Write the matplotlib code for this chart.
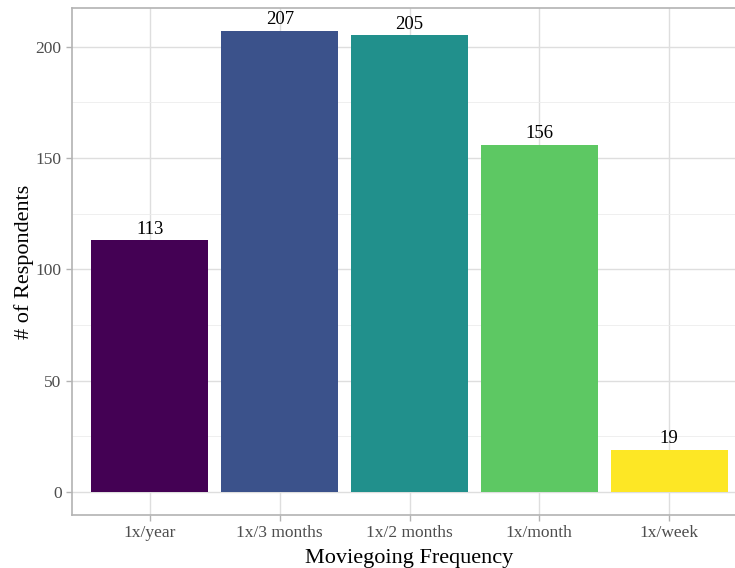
import matplotlib
matplotlib.use('Agg')
import matplotlib.pyplot as plt
from matplotlib.ticker import MultipleLocator

categories = ['1x/year', '1x/3 months', '1x/2 months', '1x/month', '1x/week']
counts = [113, 207, 205, 156, 19]
colors = ['#440154', '#3B528B', '#21908C', '#5DC863', '#FDE725']

plt.rcParams['font.family'] = ['Liberation Serif', 'DejaVu Serif']

fig = plt.figure(figsize=(7.35, 5.68), dpi=100)
W, H = 735, 568
ax = fig.add_axes([72 / W, 53 / H, (747 - 72) / W, (515 - 8) / H])

x = list(range(1, len(categories) + 1))
ax.bar(x, counts, width=0.9, color=colors, zorder=3)
for xi, c in zip(x, counts):
    ax.text(xi, c + 1.2, str(c), ha='center', va='bottom', fontsize=13.5,
            color='black', zorder=4)

ax.set_xlim(0.4, 5.6)
ax.set_ylim(-207 * 0.05, 207 * 1.05)
ax.set_xticks(x)
ax.set_xticklabels(categories)
ax.yaxis.set_major_locator(MultipleLocator(50))
ax.yaxis.set_minor_locator(MultipleLocator(25))

ax.grid(which='major', color='#dedede', linewidth=1.0, zorder=0)
ax.grid(which='minor', axis='y', color='#ececec', linewidth=0.6, zorder=0)
for s in ax.spines.values():
    s.set_color('#b3b3b3')
    s.set_linewidth(1.2)
ax.tick_params(which='major', color='#b3b3b3', length=4, width=1,
               labelsize=12.5, labelcolor='#4d4d4d')
ax.tick_params(axis='x', which='major', pad=3)
ax.tick_params(which='minor', length=0)

ax.set_xlabel('Moviegoing Frequency', fontsize=16, labelpad=6)
ax.set_ylabel('# of Respondents', fontsize=16, labelpad=1)

fig.savefig('out.png', dpi=100, facecolor='white')
